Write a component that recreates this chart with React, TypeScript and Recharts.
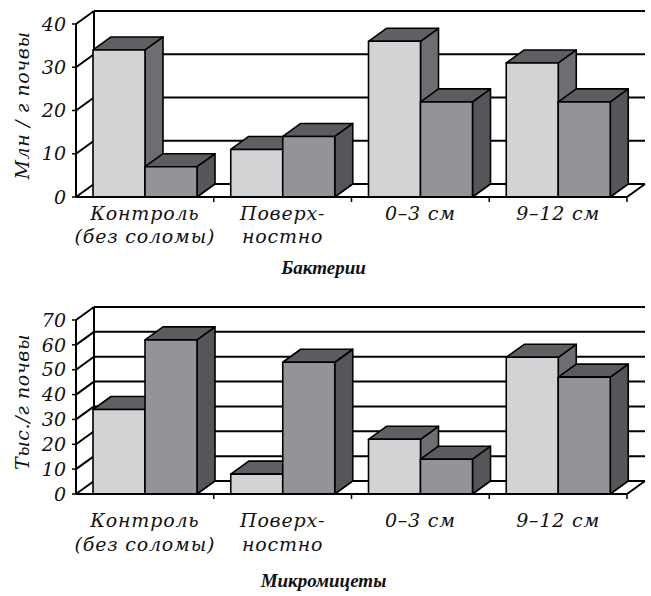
import React from 'react';
import { BarChart, Bar, XAxis, YAxis, CartesianGrid, Label } from 'recharts';

// categories and their printed (two-line) tick labels
const categories = ['Контроль', 'Поверхностно', '0–3 см', '9–12 см'];
const tickLabels = [['Контроль', '(без соломы)'], ['Поверх-', 'ностно'], ['0–3 см'], ['9–12 см']];

// Бактерии, млн / г почвы
const bacteriaLight = [34, 11, 36, 31];
const bacteriaDark = [7, 14, 22, 22];
const bacteriaTicks = [0, 10, 20, 30, 40];

// Микромицеты, тыс. / г почвы
const fungiLight = [34, 8, 22, 55];
const fungiDark = [62, 53, 14, 47];
const fungiTicks = [0, 10, 20, 30, 40, 50, 60, 70];

const W = 651;
const DX = 18; // depth of the fake 3d
const DY = -13;
const FONT = '"DejaVu Serif", serif';
const TITLE_FONT = '"Liberation Serif", serif';

const COLORS = {
  lightFront: '#d2d3d5',
  lightTop: '#5f6063',
  lightSide: '#6d6e71',
  darkFront: '#939497',
  darkTop: '#5b5c5f',
  darkSide: '#55565a',
  ink: '#111111',
};

const makeBox = (front: string, top: string, side: string) => (props: any) => {
  const { x, y, width: w, height: h } = props;
  if (w == null || h == null || isNaN(y)) return <g />;
  return (
    <g stroke="#000" strokeWidth={1.6} strokeLinejoin="round">
      <polygon
        points={`${x + w},${y} ${x + w + DX},${y + DY} ${x + w + DX},${y + h + DY} ${x + w},${y + h}`}
        fill={side}
      />
      <polygon
        points={`${x},${y} ${x + DX},${y + DY} ${x + w + DX},${y + DY} ${x + w},${y}`}
        fill={top}
      />
      <rect x={x} y={y} width={w} height={h} fill={front} />
    </g>
  );
};

const LightBox = makeBox(COLORS.lightFront, COLORS.lightTop, COLORS.lightSide);
const DarkBox = makeBox(COLORS.darkFront, COLORS.darkTop, COLORS.darkSide);

// back wall lines + diagonals to the front axis
const gridLine = (props: any) => {
  const { x1, y1, x2, y2, index, x, y, width, height } = props;
  const base = y + height;
  const isBase = Math.abs(y1 - base) < 0.5;
  return (
    <g key={`grid-${index}`} stroke="#000" strokeWidth={2} fill="none">
      <line x1={x1} y1={y1} x2={x1 + DX} y2={y1 + DY} />
      <line x1={x1 + DX} y1={y1 + DY} x2={x2 + DX} y2={y2 + DY} />
      {isBase && <line x1={x2} y1={y2} x2={x2 + DX} y2={y2 + DY} />}
      {index === 0 && width != null && (
        <line x1={x + DX} y1={y + DY} x2={x + DX} y2={y + height + DY} />
      )}
    </g>
  );
};

const renderCatTick = (first: number, step: number) => (props: any) => {
  const { x, y, payload } = props;
  const i = categories.indexOf(payload.value);
  const lines = tickLabels[i] || [String(payload.value)];
  const half = payload.offset ?? 0;
  return (
    <g>
      <line x1={x + half} y1={y} x2={x + half} y2={y + 5} stroke="#000" strokeWidth={1.5} />
      <text
        x={x}
        y={y + first}
        textAnchor="middle"
        fontFamily={FONT}
        fontStyle="italic"
        fontSize={19}
        letterSpacing={0.8}
        fill={COLORS.ink}
      >
        {lines.map((l, k) => (
          <tspan key={k} x={x} dy={k === 0 ? 0 : step}>
            {l}
          </tspan>
        ))}
      </text>
    </g>
  );
};

const yTickStyle = { fontFamily: FONT, fontStyle: 'italic', fontSize: 19, fill: COLORS.ink };

interface PanelProps {
  light: number[];
  dark: number[];
  ticks: number[];
  yLabel: string;
  title: string;
  height: number;
  top: number;
  axisHeight: number;
  firstLine: number;
  lineStep: number;
  titleDy: number;
}

const Panel: React.FC<PanelProps> = ({
  light,
  dark,
  ticks,
  yLabel,
  title,
  height,
  top,
  axisHeight,
  firstLine,
  lineStep,
  titleDy,
}) => {
  const data = categories.map((name, i) => ({ name, light: light[i], dark: dark[i] }));
  return (
    <BarChart
      width={W}
      height={height}
      data={data}
      margin={{ top, right: 24, bottom: 0, left: 0 }}
      barSize={52}
      barGap={0}
    >
      <CartesianGrid horizontal={gridLine} vertical={false} />
      <XAxis
        dataKey="name"
        height={axisHeight}
        axisLine={{ stroke: '#000', strokeWidth: 2 }}
        tickLine={false}
        tickSize={0}
        tickMargin={0}
        interval={0}
        tick={renderCatTick(firstLine, lineStep)}
      >
        <Label
          content={(p: any) => (
            <text
              x={W / 2 - 2}
              y={p.viewBox.y + titleDy}
              textAnchor="middle"
              fontFamily={TITLE_FONT}
              fontStyle="italic"
              fontWeight="bold"
              fontSize={19}
              fill={COLORS.ink}
            >
              {title}
            </text>
          )}
        />
      </XAxis>
      <YAxis
        type="number"
        domain={[ticks[0], ticks[ticks.length - 1]]}
        ticks={ticks}
        interval={0}
        width={76}
        axisLine={{ stroke: '#000', strokeWidth: 2 }}
        tickLine={{ stroke: '#000', strokeWidth: 1.5 }}
        tickSize={4}
        tickMargin={6}
        tick={yTickStyle}
      >
        <Label
          content={(p: any) => {
            const cx = 22;
            const cy = p.viewBox.y + p.viewBox.height / 2 - 5;
            return (
              <text
                x={cx}
                y={cy}
                transform={`rotate(-90 ${cx} ${cy})`}
                textAnchor="middle"
                dominantBaseline="central"
                fontFamily={FONT}
                fontStyle="italic"
                fontSize={19}
                letterSpacing={0.6}
                fill={COLORS.ink}
              >
                {yLabel}
              </text>
            );
          }}
        />
      </YAxis>
      <Bar dataKey="light" isAnimationActive={false} shape={LightBox} />
      <Bar dataKey="dark" isAnimationActive={false} shape={DarkBox} />
    </BarChart>
  );
};

export default function App() {
  return (
    <div style={{ position: 'absolute', left: 0, top: 0, width: W, height: 596, background: '#fff' }}>
      <Panel
        light={bacteriaLight}
        dark={bacteriaDark}
        ticks={bacteriaTicks}
        yLabel="Млн / г почвы"
        title="Бактерии"
        height={290}
        top={24}
        axisHeight={93}
        firstLine={23}
        lineStep={23}
        titleDy={77}
      />
      <Panel
        light={fungiLight}
        dark={fungiDark}
        ticks={fungiTicks}
        yLabel="Тыс./г почвы"
        title="Микромицеты"
        height={306}
        top={30}
        axisHeight={102}
        firstLine={33}
        lineStep={24}
        titleDy={93}
      />
    </div>
  );
}
